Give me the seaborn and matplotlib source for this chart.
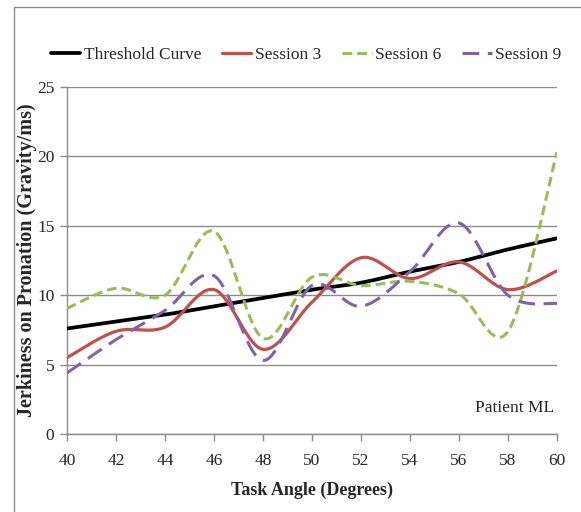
import numpy as np
import pandas as pd
import matplotlib
matplotlib.use("Agg")
import matplotlib.pyplot as plt
from matplotlib.lines import Line2D
import seaborn as sns

# Task angles (degrees) and jerkiness measurements per series
angles = [40, 42, 44, 46, 48, 50, 52, 54, 56, 58, 60]
threshold = [7.6, 8.1, 8.6, 9.2, 9.8, 10.4, 10.9, 11.7, 12.4, 13.3, 14.1]
session3 = [5.5, 7.4, 7.7, 10.4, 6.1, 9.5, 12.7, 11.2, 12.4, 10.4, 11.75]
session6 = [9.05, 10.5, 10.0, 14.6, 6.9, 11.3, 10.7, 11.0, 10.1, 7.4, 20.3]
session9 = [4.4, 6.8, 8.9, 11.4, 5.3, 10.7, 9.2, 11.7, 15.2, 10.0, 9.4]

series_names = ["Threshold Curve", "Session 3", "Session 6", "Session 9"]
x_ticks = [40, 42, 44, 46, 48, 50, 52, 54, 56, 58, 60]
y_ticks = [0, 5, 10, 15, 20, 25]


def smooth(xs, ys, n=40):
    """Bezier smoothing through every point (spreadsheet-style smoothed line)."""
    xs = np.asarray(xs, float)
    ys = np.asarray(ys, float)
    P = np.column_stack([xs, ys])
    Pext = np.vstack([P[0], P, P[-1]])
    out = []
    t = np.linspace(0, 1, n, endpoint=False)[:, None]
    for i in range(len(P) - 1):
        p0, p1, p2, p3 = Pext[i], Pext[i + 1], Pext[i + 2], Pext[i + 3]
        b1 = p1 + (p2 - p0) / 6.0
        b2 = p2 - (p3 - p1) / 6.0
        seg = ((1 - t) ** 3) * p1 + 3 * ((1 - t) ** 2) * t * b1 + 3 * (1 - t) * t ** 2 * b2 + t ** 3 * p2
        out.append(seg)
    out.append(P[-1][None, :])
    out = np.vstack(out)
    return out[:, 0], out[:, 1]


sns.set_theme(style="white")
plt.rcParams["font.family"] = ["Liberation Serif", "DejaVu Serif"]

fig = plt.figure(figsize=(5.81, 5.12), dpi=100)
ax = fig.add_axes([67 / 581, 1 - 434 / 512, 490 / 581, 347 / 512])

styles = {
    "Threshold Curve": dict(color="#000000", lw=2.7, ls="-"),
    "Session 3": dict(color="#C0504D", lw=2.3, ls="-"),
    "Session 6": dict(color="#9BBB59", lw=2.2, ls=(0, (3.2, 1.6))),
    "Session 9": dict(color="#8064A2", lw=2.2, ls=(0, (5.5, 2.8))),
}

for name, vals in zip(series_names, [threshold, session3, session6, session9]):
    sx, sy = smooth(angles, vals)
    df = pd.DataFrame({"angle": sx, "value": sy})
    st = styles[name]
    sns.lineplot(data=df, x="angle", y="value", ax=ax, sort=False, estimator=None,
                 color=st["color"], linewidth=st["lw"], linestyle=st["ls"], zorder=3)

ax.set_xlim(40, 60)
ax.set_ylim(0, 25)
ax.set_xticks(x_ticks)
ax.set_yticks(y_ticks)
ax.set_xticklabels([str(v) for v in x_ticks], fontsize=12.5)
ax.set_yticklabels([str(v) for v in y_ticks], fontsize=12.5)
ax.yaxis.grid(True, color="#8C8C8C", linewidth=1.0)
ax.xaxis.grid(False)
for s in ["top", "right"]:
    ax.spines[s].set_visible(False)
for s in ["left", "bottom"]:
    ax.spines[s].set_color("#8C8C8C")
    ax.spines[s].set_linewidth(1.0)
ax.tick_params(axis="both", which="major", direction="out", length=5, width=1.0,
               color="#8C8C8C", bottom=True, left=True)
ax.tick_params(axis="x", pad=9)
ax.tick_params(axis="y", pad=4)

ax.set_xlabel("Task Angle (Degrees)", fontsize=13, fontweight="bold", labelpad=9)
ax.set_ylabel("Jerkiness on Pronation (Gravity/ms)", fontsize=14.5, fontweight="bold", labelpad=0)

ax.text(58.25, 1.9, "Patient ML", fontsize=12.5, ha="center", va="center")

handles = [Line2D([0], [0], color=styles[n]["color"], lw=styles[n]["lw"], ls=styles[n]["ls"])
           for n in series_names]
fig.legend(handles, series_names, loc="center", bbox_to_anchor=(306 / 581, 1 - 55 / 512),
           ncol=4, frameon=False, fontsize=12.5, handlelength=1.7, handletextpad=0.2,
           columnspacing=1.2)

# outer frame along the top and left edges
fig.add_artist(Line2D([14 / 581, 14 / 581], [0, 1 - 7 / 512], transform=fig.transFigure,
                      color="#8C8C8C", lw=1.0))
fig.add_artist(Line2D([14 / 581, 1], [1 - 7 / 512, 1 - 7 / 512], transform=fig.transFigure,
                      color="#8C8C8C", lw=1.0))

fig.savefig("out.png", dpi=100, facecolor="white")
